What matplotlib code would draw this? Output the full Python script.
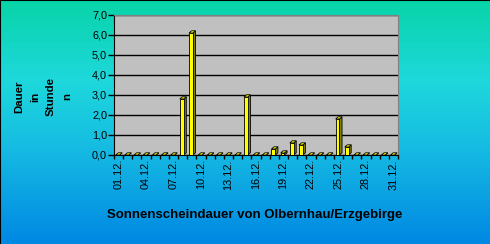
import matplotlib
matplotlib.use("Agg")
import matplotlib.pyplot as plt
import numpy as np
from matplotlib.patches import Polygon, Rectangle
from matplotlib.colors import LinearSegmentedColormap

days = [f"{d:02d}.12." for d in range(1, 32)]
hours = [0, 0, 0, 0, 0, 0, 0, 2.8, 6.1, 0, 0, 0, 0, 0, 2.9, 0, 0, 0.3, 0.1,
         0.6, 0.5, 0, 0, 0, 1.8, 0.4, 0, 0, 0, 0, 0]
yticks = [0, 1, 2, 3, 4, 5, 6, 7]
ytick_labels = ["0,0", "1,0", "2,0", "3,0", "4,0", "5,0", "6,0", "7,0"]
title = "Sonnenscheindauer von Olbernhau/Erzgebirge"
ylabel = "Dauer\nin\nStunde\nn"

plt.rcParams['font.family'] = ['Liberation Sans', 'DejaVu Sans']

fig = plt.figure(figsize=(4.9, 2.44), dpi=100)

# background gradient
bg = fig.add_axes([0, 0, 1, 1], zorder=-10)
cmap = LinearSegmentedColormap.from_list("bg", [
    (0.0, (8/255, 212/255, 168/255)),
    (0.33, (30/255, 216/255, 220/255)),
    (0.6, (22/255, 188/255, 226/255)),
    (1.0, (0/255, 136/255, 228/255))])
grad = np.linspace(0, 1, 256).reshape(-1, 1)
bg.imshow(grad, aspect='auto', cmap=cmap, extent=[0, 1, 0, 1], origin='upper')
bg.set_xlim(0, 1); bg.set_ylim(0, 1)
bg.axis('off')
bg.plot([0.001, 0.001, 1], [0, 0.998, 0.998], color='black', lw=1.5, transform=bg.transAxes)

ax = fig.add_axes([114/490, 1 - 155/244, (398 - 114)/490, (155 - 15)/244])
ax.set_facecolor('#C0C0C0')
n = len(hours)
x = np.arange(1, n + 1)
ax.set_xlim(0.5, n + 0.5)
ax.set_ylim(0, 7)

w = 0.42
dx = 0.28
dy = 0.11
for xi, v in zip(x, hours):
    x0 = xi - w / 2 - 0.1
    x1 = x0 + w
    # side face
    ax.add_patch(Polygon([(x1, 0), (x1 + dx, dy), (x1 + dx, v + dy), (x1, v)],
                         closed=True, facecolor='#808000', edgecolor='black', lw=0.6, zorder=3))
    # top face
    ax.add_patch(Polygon([(x0, v), (x0 + dx, v + dy), (x1 + dx, v + dy), (x1, v)],
                         closed=True, facecolor='#FFFF00', edgecolor='black', lw=0.6, zorder=3))
    # front face
    ax.add_patch(Rectangle((x0, 0), w, v, facecolor='#FFFF00', edgecolor='black', lw=0.6, zorder=4))

ax.set_yticks(yticks)
ax.set_yticklabels(ytick_labels, fontsize=7.8)
ax.yaxis.grid(True, color='black', lw=1)
ax.set_axisbelow(True)
ax.tick_params(axis='y', length=4, width=1, pad=1)

ax.set_xticks(np.arange(0.5, n + 1, 1))
ax.set_xticklabels([])
ax.tick_params(axis='x', which='major', length=3, width=1)
ax.set_xticks(x[::3], minor=True)
ax.set_xticklabels(days[::3], minor=True, rotation=90, fontsize=7.8)
ax.tick_params(axis='x', which='minor', length=0, pad=3)

for s in ['top', 'right']:
    ax.spines[s].set_color('#808080')
for s in ['left', 'bottom']:
    ax.spines[s].set_color('black')

fig.text(255/490, 1 - 215/244, title, ha='center', va='center', fontsize=9.5, fontweight='bold')
fig.text(43/490, 1 - 97/244, ylabel, ha='center', va='center', rotation=90,
         fontsize=8.2, fontweight='bold', linespacing=1.75, multialignment='center')

fig.savefig("out.png", dpi=100)
